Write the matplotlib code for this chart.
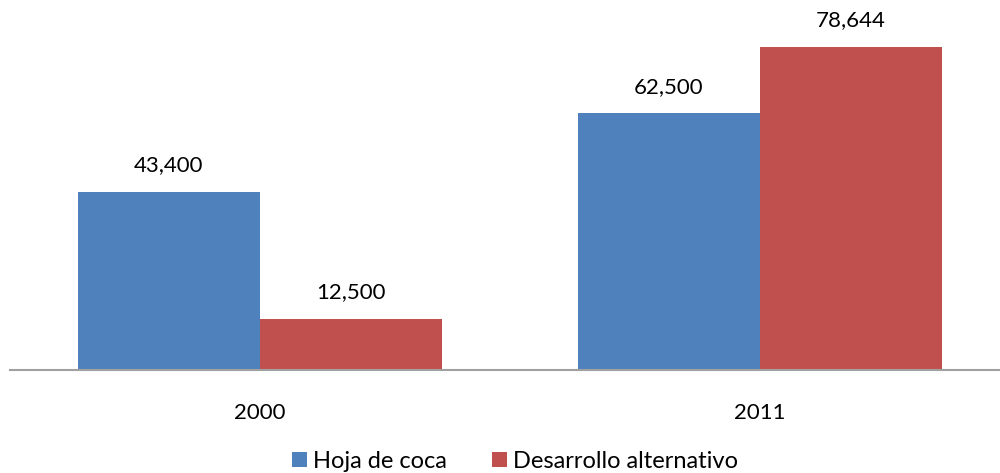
import matplotlib.pyplot as plt
import numpy as np

plt.rcParams['font.family'] = ['Lato', 'DejaVu Sans']

years = ['2000', '2011']
hoja_coca = [43400, 62500]
desarrollo = [12500, 78644]
series_names = ['Hoja de coca', 'Desarrollo alternativo']
colors = ['#4F81BD', '#C0504D']

fig = plt.figure(figsize=(10, 4.73), dpi=100)
ax = fig.add_axes([0.01, 0.2178, 0.99, 0.7822])

x = np.arange(len(years))
w = 0.364
bars1 = ax.bar(x - w / 2, hoja_coca, w, color=colors[0], label=series_names[0])
bars2 = ax.bar(x + w / 2, desarrollo, w, color=colors[1], label=series_names[1])

for bars, vals in ((bars1, hoja_coca), (bars2, desarrollo)):
    for b, v in zip(bars, vals):
        ax.text(b.get_x() + b.get_width() / 2, v + 4000, f'{v:,}',
                ha='center', va='bottom', fontsize=16)

ax.set_xlim(-0.5, 1.48)
ax.set_ylim(0, 90000)
for s in ('top', 'right', 'left'):
    ax.spines[s].set_visible(False)
ax.spines['bottom'].set_color('#A0A0A0')
ax.spines['bottom'].set_linewidth(1.5)
ax.set_yticks([])
ax.set_xticks(x)
ax.set_xticklabels(years, fontsize=16)
ax.tick_params(axis='x', length=0, pad=24)

ax.legend(loc='lower center', bbox_to_anchor=(0.51, -0.32), ncol=2, frameon=False,
          fontsize=17, handlelength=0.65, handleheight=0.65, handletextpad=0.25,
          columnspacing=1.9, borderpad=0.2)

fig.savefig('out.png', dpi=100)
